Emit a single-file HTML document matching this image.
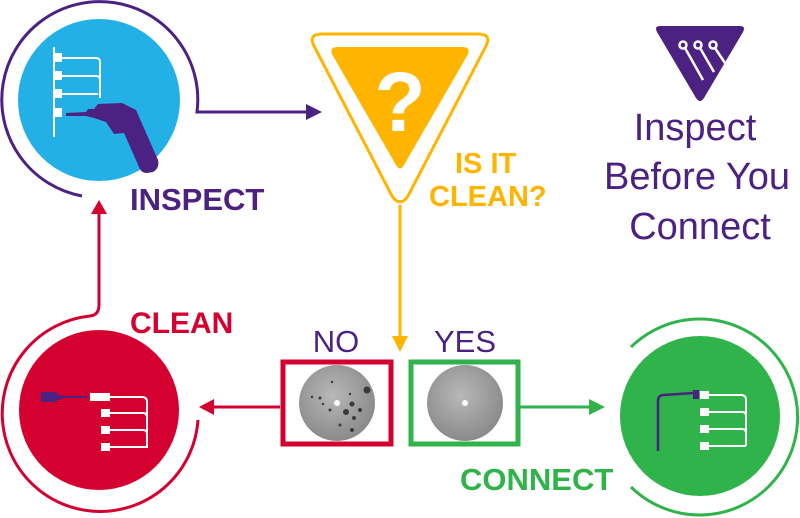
<!DOCTYPE html>
<html><head><meta charset="utf-8"><style>
html,body{margin:0;padding:0;background:#fff;}
svg{display:block;}
text{font-family:"Liberation Sans",sans-serif;}
</style></head><body>
<svg width="800" height="518" viewBox="0 0 800 518" xmlns="http://www.w3.org/2000/svg">
<defs>
<radialGradient id="g1" cx="0.45" cy="0.4" r="0.6"><stop offset="0" stop-color="#b8b8b8"/><stop offset="1" stop-color="#8a8a8a"/></radialGradient>
</defs>
<!-- INSPECT -->
<path d="M82,196 A98,98 0 1 1 197,112 L312,112" fill="none" stroke="#4b2182" stroke-width="3"/>
<polygon points="322,112 306,104 306,120" fill="#4b2182"/>
<circle cx="99" cy="100" r="81" fill="#22b0e6"/>
<g stroke="#fff" stroke-width="2" fill="none">
<line x1="54" y1="47" x2="54" y2="137"/>
<path d="M60,58 H96 Q100,58 100,62 V98"/>
<path d="M60,76 H96 Q100,76 100,80 V98"/>
<path d="M60,94 H98"/>
</g>
<g fill="#fff"><rect x="55" y="53" width="7" height="9"/><rect x="55" y="71" width="7" height="9"/><rect x="55" y="89" width="7" height="9"/><rect x="55" y="108" width="7" height="9"/></g>
<path d="M66,113 L86,112 L88,109 L94,109 L98,104 L122,103 L136,110 L158,160 Q160,168 153,172 L147,173 Q141,173 139,167 L124,133 L114,134 L106,122 L94,118 L86,116 L66,116 Z" fill="#4b2182"/>
<text x="130" y="210" font-size="31" font-weight="bold" fill="#4b2182">INSPECT</text>
<!-- CLEAN -->
<line x1="99" y1="305" x2="99" y2="212" stroke="#d4002f" stroke-width="3"/>
<polygon points="99,200 91,214 107,214" fill="#d4002f"/>
<path d="M99,305 Q99,315 90,316 A98,98 0 1 0 198,420" fill="none" stroke="#d4002f" stroke-width="3"/>
<circle cx="99" cy="410" r="80" fill="#d4002f"/>
<rect x="41" y="392" width="16" height="10" fill="#4b2182"/>
<path d="M57,395 L65,396 L88,396 L88,398 L65,398 L57,400Z" fill="#4b2182"/>
<g stroke="#fff" stroke-width="2" fill="none">
<path d="M110,397 H142 Q147,397 147,402 V448"/>
<path d="M110,413 H143 Q147,413 147,418"/>
<path d="M110,430 H143 Q147,430 147,434"/>
<path d="M110,447 H146"/>
</g>
<g fill="#fff"><rect x="90" y="393" width="20" height="8"/><rect x="101" y="409" width="9" height="8"/><rect x="101" y="426" width="9" height="8"/><rect x="101" y="443" width="9" height="8"/></g>
<text x="130" y="333" font-size="30" font-weight="bold" fill="#d4002f">CLEAN</text>
<line x1="280" y1="407" x2="212" y2="407" stroke="#d4002f" stroke-width="3"/>
<polygon points="199,407 214,399 214,415" fill="#d4002f"/>
<!-- triangle -->
<path d="M322,34 L478,34 Q492,34 486,46 L408,196 Q400,208 392,196 L314,46 Q308,34 322,34Z" fill="none" stroke="#ffb400" stroke-width="3"/>
<path d="M338,47 L462,47 Q472,47 467,56 L404,165 Q400,172 396,165 L333,56 Q328,47 338,47Z" fill="#ffb400"/>
<text x="400" y="131" font-size="84" font-weight="bold" fill="#fff" text-anchor="middle">?</text>
<text x="455" y="173" font-size="29" font-weight="bold" fill="#ffb400">IS IT</text>
<text x="429" y="206" font-size="29" font-weight="bold" fill="#ffb400">CLEAN?</text>
<line x1="400" y1="205" x2="400" y2="338" stroke="#ffb400" stroke-width="3"/>
<polygon points="400,352 392,336 408,336" fill="#ffb400"/>
<!-- NO / YES -->
<text x="336" y="352" font-size="31" fill="#4b2182" text-anchor="middle">NO</text>
<text x="465" y="352" font-size="31" fill="#4b2182" text-anchor="middle">YES</text>
<rect x="283" y="362" width="108" height="82" fill="#fff" stroke="#d4002f" stroke-width="5"/>
<rect x="411" y="362" width="107" height="82" fill="#fff" stroke="#2fb34a" stroke-width="5"/>
<circle cx="337" cy="403" r="38" fill="url(#g1)"/>
<g fill="#3a3a3a">
<circle cx="367" cy="390" r="3.5"/><circle cx="352" cy="404" r="2.5"/><circle cx="346" cy="412" r="3"/><circle cx="320" cy="398" r="1.5"/><circle cx="330" cy="410" r="1.5"/><circle cx="354" cy="418" r="2"/><circle cx="360" cy="410" r="2"/><circle cx="340" cy="425" r="1.5"/><circle cx="352" cy="430" r="2"/><circle cx="312" cy="397" r="1.2"/><circle cx="332" cy="382" r="1.2"/><circle cx="350" cy="394" r="1.2"/><circle cx="323" cy="404" r="1.2"/>
</g>
<circle cx="337" cy="403" r="3" fill="#fff"/>
<circle cx="465" cy="403" r="38" fill="url(#g1)"/>
<circle cx="465" cy="403" r="3" fill="#fff"/>
<!-- CONNECT -->
<line x1="518" y1="407" x2="592" y2="407" stroke="#2fb34a" stroke-width="3"/>
<polygon points="605,407 589,399 589,415" fill="#2fb34a"/>
<path d="M631,347 A98,98 0 1 1 631,487" fill="none" stroke="#2fb34a" stroke-width="3"/>
<circle cx="700" cy="416" r="80" fill="#2fb34a"/>
<path d="M658,451 V401 Q658,395 664,395 L694,393" fill="none" stroke="#4b2182" stroke-width="2.5"/>
<rect x="693" y="390" width="6" height="9" fill="#4b2182"/>
<g stroke="#fff" stroke-width="2" fill="none">
<path d="M708,395 H741 Q746,395 746,400 V446"/>
<path d="M708,412 H742 Q746,412 746,416"/>
<path d="M708,429 H742 Q746,429 746,433"/>
<path d="M708,446 H746"/>
</g>
<g fill="#fff"><rect x="700" y="391" width="9" height="8"/><rect x="700" y="408" width="9" height="8"/><rect x="700" y="425" width="9" height="8"/><rect x="700" y="442" width="9" height="8"/></g>
<text x="460" y="490" font-size="31" font-weight="bold" fill="#2fb34a">CONNECT</text>
<!-- logo -->
<path d="M660,26 L740,26 Q746,26 743,32 L704,98 Q700,104 696,98 L657,32 Q654,26 660,26Z" fill="#4b2182"/>
<g stroke="#fff" stroke-width="2.5" fill="none">
<circle cx="683" cy="45" r="3.5"/><circle cx="698" cy="45" r="3.5"/><circle cx="713" cy="45" r="3.5"/>
<line x1="685" y1="48" x2="703" y2="80"/><line x1="700" y1="48" x2="714" y2="72"/><line x1="715" y1="48" x2="725" y2="63"/>
</g>
<text x="695" y="140" font-size="38" fill="#4b2182" text-anchor="middle">Inspect</text>
<text x="697" y="189" font-size="38" fill="#4b2182" text-anchor="middle">Before You</text>
<text x="700" y="239" font-size="38" fill="#4b2182" text-anchor="middle">Connect</text>
</svg>
</body></html>
